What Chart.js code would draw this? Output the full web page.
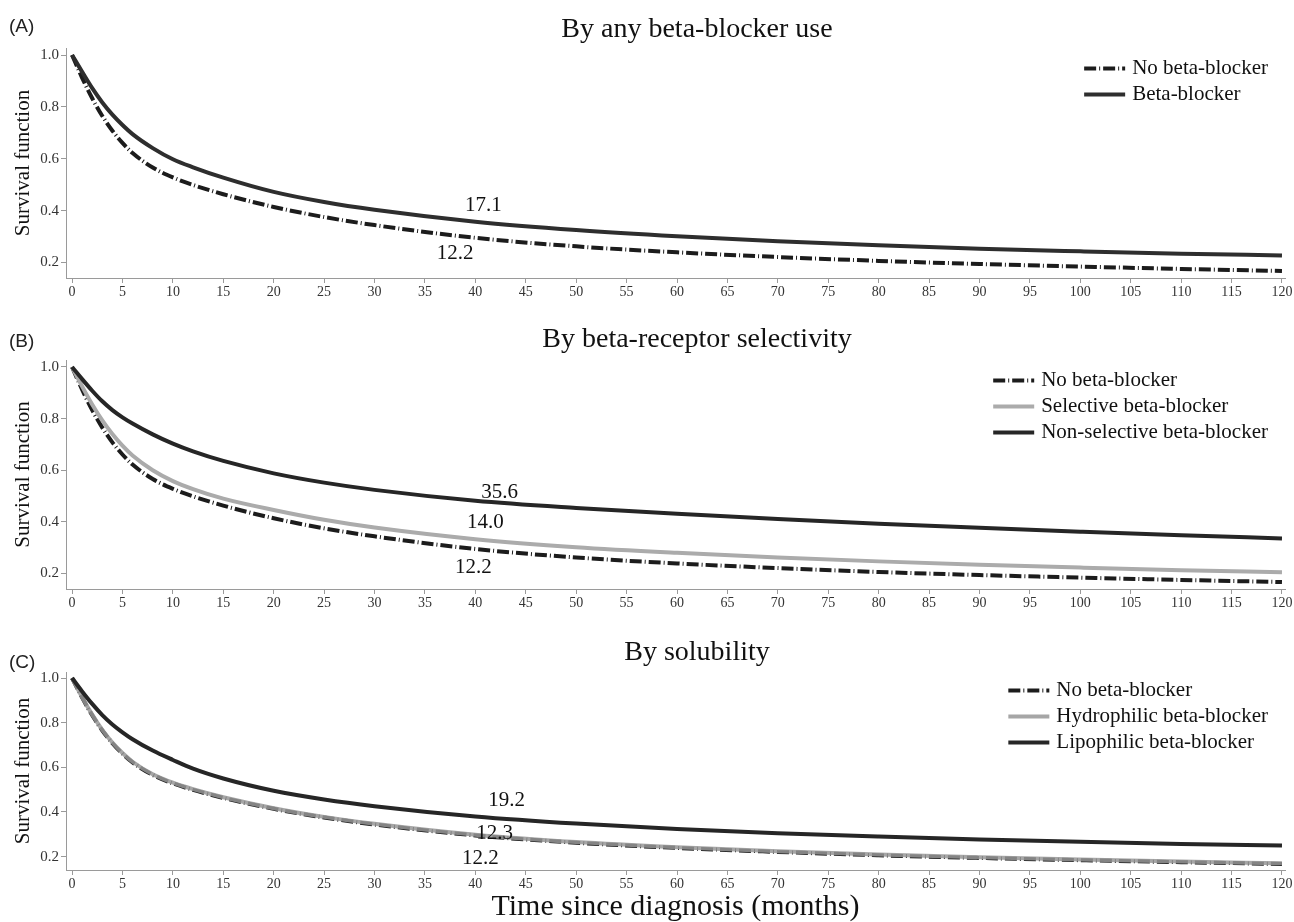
<!DOCTYPE html>
<html>
<head>
<meta charset="utf-8">
<script src="https://cdn.jsdelivr.net/npm/chart.js@4.4.0/dist/chart.umd.min.js"></script>
<style>
  html, body { margin: 0; padding: 0; background: #fff; }
  body { width: 1294px; height: 922px; overflow: hidden; position: relative; }
  .panel { position: absolute; left: 0; width: 1294px; }
</style>
</head>
<body>
<div class="panel" style="top:0;height:312px"><canvas id="panelA"></canvas></div>
<div class="panel" style="top:312px;height:310px"><canvas id="panelB"></canvas></div>
<div class="panel" style="top:622px;height:300px"><canvas id="panelC"></canvas></div>
<script>
// months since diagnosis
const months = [0, 1, 2, 3, 4, 5, 6, 8, 10, 12, 15, 20, 25, 30, 40, 50, 60, 70, 80, 90, 100, 110, 120];

// survival curves
const noBeta = [1.0, 0.912, 0.833, 0.765, 0.708, 0.661, 0.622, 0.566, 0.528, 0.499, 0.463, 0.414, 0.375, 0.344, 0.295, 0.262, 0.239, 0.221, 0.206, 0.194, 0.184, 0.175, 0.167];
const anyBeta = [1.0, 0.935, 0.872, 0.817, 0.77, 0.73, 0.695, 0.641, 0.598, 0.567, 0.527, 0.472, 0.433, 0.403, 0.357, 0.325, 0.301, 0.282, 0.266, 0.253, 0.243, 0.234, 0.227];
const selective = [1.0, 0.925, 0.855, 0.793, 0.74, 0.695, 0.657, 0.6, 0.558, 0.527, 0.49, 0.446, 0.408, 0.378, 0.333, 0.302, 0.28, 0.262, 0.247, 0.234, 0.223, 0.213, 0.205];
const nonSelective = [1.0, 0.953, 0.908, 0.867, 0.833, 0.805, 0.781, 0.739, 0.703, 0.673, 0.636, 0.588, 0.552, 0.524, 0.482, 0.454, 0.431, 0.411, 0.393, 0.377, 0.362, 0.348, 0.336];
const hydrophilic = [1.0, 0.914, 0.836, 0.768, 0.711, 0.664, 0.625, 0.569, 0.531, 0.502, 0.466, 0.417, 0.378, 0.347, 0.298, 0.265, 0.242, 0.224, 0.209, 0.197, 0.187, 0.178, 0.17];
const lipophilic = [1.0, 0.94, 0.884, 0.834, 0.792, 0.757, 0.726, 0.675, 0.633, 0.594, 0.55, 0.495, 0.456, 0.426, 0.38, 0.348, 0.324, 0.305, 0.29, 0.277, 0.266, 0.257, 0.25];

// median survival labels (month, survival level where the text sits)
const mediansA = [{ text: "17.1", x: 40.8, y: 0.421 }, { text: "12.2", x: 38.0, y: 0.236 }];
const mediansB = [{ text: "35.6", x: 42.4, y: 0.513 }, { text: "14.0", x: 41.0, y: 0.397 }, { text: "12.2", x: 39.8, y: 0.224 }];
const mediansC = [{ text: "19.2", x: 43.1, y: 0.452 }, { text: "12.3", x: 41.9, y: 0.303 }, { text: "12.2", x: 40.5, y: 0.191 }];

const SERIF = "'Liberation Serif', 'DejaVu Serif', serif";
const SANS = "'Liberation Sans', Arial, sans-serif";
Chart.defaults.font.family = SERIF;

const pts = vals => months.map((m, i) => ({ x: m, y: vals[i] }));

const dashed = (label, vals) => ({
  label, data: pts(vals), borderColor: '#1c1c1c', borderWidth: 4,
  borderDash: [12, 3, 1, 3], order: 3
});
const solid = (label, vals, color, order) => ({
  label, data: pts(vals), borderColor: color, borderWidth: 4, order
});

// title, panel letter, legend inside the plot and the median labels
const decor = {
  id: 'decor',
  afterDraw(chart, args, o) {
    const { ctx } = chart;
    const x = chart.scales.x, y = chart.scales.y;
    ctx.save();
    ctx.textBaseline = 'middle';
    ctx.fillStyle = '#222';
    ctx.textAlign = 'left';
    ctx.font = '19px ' + SANS;
    ctx.fillText(o.letter, 9, o.letterY);

    ctx.fillStyle = '#111';
    ctx.textAlign = 'center';
    ctx.font = '28px ' + SERIF;
    ctx.fillText(o.title, 697, o.titleY);

    ctx.font = '21px ' + SERIF;
    const ds = chart.data.datasets;
    const maxW = Math.max(...ds.map(d => ctx.measureText(d.label).width));
    const tx = 1268 - maxW;
    ds.forEach((d, i) => {
      const ly = 68.5 + i * 26;
      ctx.beginPath();
      ctx.setLineDash(d.borderDash || []);
      ctx.strokeStyle = d.borderColor;
      ctx.lineWidth = 4;
      ctx.moveTo(tx - 48, ly);
      ctx.lineTo(tx - 7, ly);
      ctx.stroke();
      ctx.setLineDash([]);
      ctx.textAlign = 'left';
      ctx.fillStyle = '#111';
      ctx.fillText(d.label, tx, ly);
    });

    ctx.textAlign = 'center';
    o.medians.forEach(m => {
      ctx.fillText(m.text, x.getPixelForValue(m.x), y.getPixelForValue(m.y));
    });
    ctx.restore();
  }
};

function makePanel(id, datasets, cfg) {
  return new Chart(id, {
    type: 'line',
    data: { datasets },
    plugins: [decor],
    options: {
      responsive: true,
      maintainAspectRatio: false,
      animation: false,
      devicePixelRatio: 1,
      layout: { padding: { left: 0, right: 9, top: cfg.top, bottom: 0 } },
      elements: {
        point: { radius: 0 },
        line: { cubicInterpolationMode: 'monotone', fill: false, borderCapStyle: 'butt' }
      },
      plugins: {
        legend: { display: false },
        tooltip: { enabled: false },
        decor: { letter: cfg.letter, letterY: cfg.letterY, title: cfg.title, titleY: cfg.titleY, medians: cfg.medians }
      },
      scales: {
        x: {
          type: 'linear', min: -0.6, max: 120.3,
          border: { color: '#9a9a9a', width: 1 },
          grid: { drawOnChartArea: false, color: '#9a9a9a', tickLength: 5 },
          ticks: { stepSize: 5, includeBounds: false, autoSkip: false, maxRotation: 0, padding: 1, color: '#333', font: { size: 14 } },
          title: {
            display: !!cfg.xTitle, text: cfg.xTitle || '', color: '#111',
            font: { size: 30, lineHeight: 1 }, padding: { top: 0, bottom: 0 }
          },
          afterFit(s) { s.height = cfg.xh; }
        },
        y: {
          min: 0.14, max: 1.027,
          border: { color: '#9a9a9a', width: 1 },
          grid: { drawOnChartArea: false, color: '#9a9a9a', tickLength: 5 },
          ticks: { stepSize: 0.2, includeBounds: false, padding: 2, color: '#333', font: { size: 15 }, callback: v => v.toFixed(1) },
          title: { display: true, text: 'Survival function', color: '#111', font: { size: 21 }, padding: { top: 11, bottom: 0 } },
          afterFit(s) { s.width = 66; }
        }
      }
    }
  });
}

makePanel('panelA', [
  dashed('No beta-blocker', noBeta),
  solid('Beta-blocker', anyBeta, '#2e2e2e', 1)
], { letter: '(A)', letterY: 27, title: 'By any beta-blocker use', titleY: 30, top: 48, xh: 34, medians: mediansA });

makePanel('panelB', [
  dashed('No beta-blocker', noBeta),
  solid('Selective beta-blocker', selective, '#ababab', 2),
  solid('Non-selective beta-blocker', nonSelective, '#262626', 1)
], { letter: '(B)', letterY: 30, title: 'By beta-receptor selectivity', titleY: 28, top: 48, xh: 33, medians: mediansB });

makePanel('panelC', [
  dashed('No beta-blocker', noBeta),
  solid('Hydrophilic beta-blocker', hydrophilic, 'rgba(150,150,150,0.85)', 2),
  solid('Lipophilic beta-blocker', lipophilic, '#262626', 1)
], { letter: '(C)', letterY: 41, title: 'By solubility', titleY: 31, top: 50, xh: 52, medians: mediansC, xTitle: 'Time since diagnosis (months)' });
</script>
</body>
</html>
